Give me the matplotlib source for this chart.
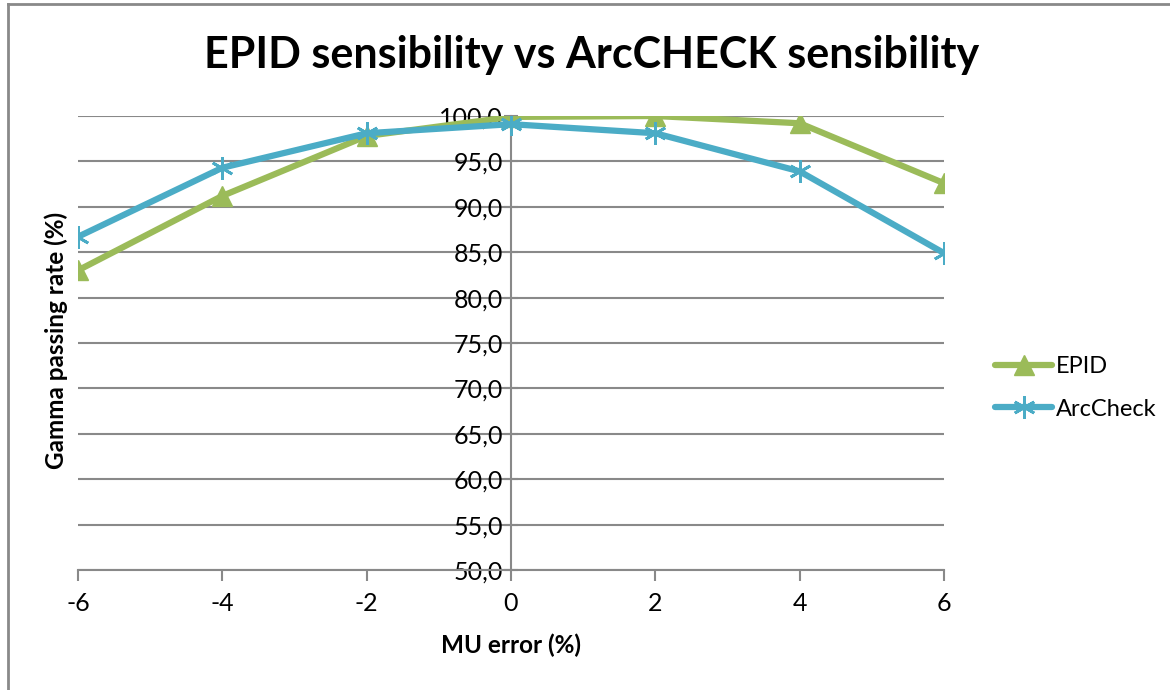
import matplotlib.pyplot as plt
import matplotlib as mpl
from matplotlib.lines import Line2D
from matplotlib.ticker import FuncFormatter

mpl.rcParams['font.family'] = ['Lato', 'DejaVu Sans']
mpl.rcParams['axes.unicode_minus'] = False

mu_error = [-6, -4, -2, 0, 2, 4, 6]
epid = [83.0, 91.2, 97.8, 99.9, 100.0, 99.2, 92.6]
arccheck = [86.7, 94.3, 98.1, 99.1, 98.1, 93.9, 84.9]
y_ticks = [50, 55, 60, 65, 70, 75, 80, 85, 90, 95, 100]

green = '#9BBB59'
blue = '#4BACC6'
grey = '#898989'

fig = plt.figure(figsize=(11.7, 6.9), dpi=100)
ax = fig.add_axes([78 / 1170, 120 / 690, 866 / 1170, 454 / 690])

ax.plot(mu_error, epid, color=green, lw=4.5, marker='^', ms=15,
        solid_capstyle='round', label='EPID', zorder=3)
ax.plot(mu_error, arccheck, color=blue, lw=4.5, marker=(6, 2, 0), ms=16,
        mew=2, solid_capstyle='round', label='ArcCheck', zorder=3)

ax.set_xlim(-6, 6)
ax.set_ylim(50, 100)
ax.set_xticks(mu_error)
ax.set_yticks(y_ticks)
ax.yaxis.set_major_formatter(FuncFormatter(lambda v, p: f'{v:.1f}'.replace('.', ',')))

ax.spines['top'].set_visible(False)
ax.spines['right'].set_visible(False)
ax.spines['left'].set_position(('data', 0))
for s in ['left', 'bottom']:
    ax.spines[s].set_color(grey)
    ax.spines[s].set_linewidth(1.5)

ax.grid(axis='y', color=grey, lw=1.5)
ax.set_axisbelow(True)
ax.tick_params(axis='y', direction='inout', length=10, width=1.5, color=grey,
               labelsize=18, pad=1)
ax.tick_params(axis='x', direction='out', length=8, width=1.5, color=grey,
               labelsize=18, pad=8)

fig.text(511 / 1170, 1 - 645 / 690, 'MU error (%)', ha='center', va='center',
         fontsize=17.5, fontweight='bold')
fig.text(56 / 1170, 1 - 340 / 690, 'Gamma passing rate (%)', ha='center',
         va='center', rotation=90, fontsize=17.5, fontweight='bold')
fig.text(592 / 1170, 1 - 55 / 690, 'EPID sensibility vs ArcCHECK sensibility',
         ha='center', va='center', fontsize=31, fontweight='bold')

handles = [Line2D([], [], color=green, lw=4.5, marker='^', ms=15, solid_capstyle='round'),
           Line2D([], [], color=blue, lw=4.5, marker=(6, 2, 0), ms=16, mew=2,
                  solid_capstyle='round')]
fig.legend(handles, ['EPID', 'ArcCheck'], loc='center left',
           bbox_to_anchor=(974 / 1170, 1 - 388 / 690), frameon=False,
           fontsize=17, handlelength=2.4, handletextpad=0.15, labelspacing=0.9)

# chart border (top and left visible)
fig.add_artist(Line2D([8 / 1170, 8 / 1170], [0, 1 - 4 / 690], color=grey, lw=2))
fig.add_artist(Line2D([8 / 1170, 1], [1 - 4 / 690, 1 - 4 / 690], color=grey, lw=2))

fig.savefig('out.png', dpi=100)
